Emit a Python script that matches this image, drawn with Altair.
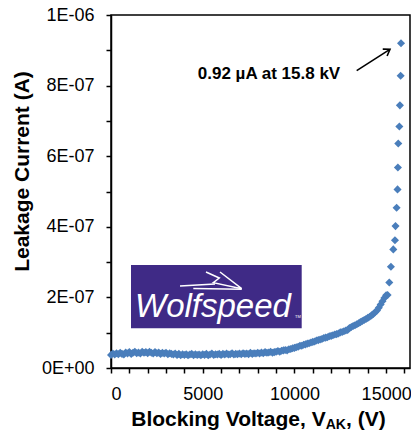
import altair as alt
import pandas as pd

# ---- data ----
# dense band: current in units of 1e-8 A at 100 V steps, 0 .. 15000 V
band_current_e8 = [
    3.7, 4.1, 3.8, 4.2, 3.9, 4.3, 4.0, 3.8, 4.4, 4.1,
    4.5, 4.0, 4.3, 4.6, 4.2, 4.4, 4.1, 4.6, 4.3, 4.5,
    4.2, 4.6, 4.3, 4.1, 4.5, 4.2, 4.4, 4.0, 4.3, 4.1,
    4.3, 3.9, 4.2, 4.0, 3.8, 4.1, 3.7, 4.0, 3.6, 3.9,
    3.7, 3.9, 3.6, 3.8, 4.0, 3.6, 3.9, 3.7, 3.8, 3.6,
    3.9, 3.7, 4.0, 3.6, 3.8, 4.1, 3.7, 3.9, 3.8, 4.0,
    3.7, 4.0, 3.8, 4.1, 3.8, 3.9, 4.2, 3.8, 4.0, 3.9,
    4.1, 3.9, 4.2, 4.0, 4.1, 3.9, 4.3, 4.0, 4.2, 4.1,
    4.3, 4.1, 4.4, 4.2, 4.5, 4.3, 4.4, 4.6, 4.3, 4.5,
    4.6, 4.8, 4.6, 4.9, 5.0, 5.1, 5.0, 5.3, 5.4, 5.6,
    5.7, 5.9, 6.0, 6.3, 6.3, 6.6, 6.7, 6.9, 7.0, 7.2,
    7.4, 7.5, 7.8, 7.9, 8.1, 8.2, 8.5, 8.6, 8.7, 9.0,
    9.1, 9.3, 9.5, 9.6, 9.8, 10.1, 10.2, 10.4, 10.6, 10.8,
    11.3, 11.6, 11.9, 12.1, 12.4, 12.7, 13.0, 13.3, 13.6, 13.9,
    14.2, 14.5, 14.9, 15.3, 15.8, 16.3, 17.1, 18.0, 18.9, 19.8,
    20.6,
]
band_voltage = list(range(0, 15001, 100))

# sparse points at the top of the sweep
tail_voltage = [15080, 15170, 15260, 15390, 15480, 15510, 15570, 15620,
                15640, 15660, 15720, 15750, 15790, 15810]
tail_current_e8 = [20.7, 24.2, 28.7, 33.6, 36.2, 40.2, 45.4, 50.6,
                   56.8, 63.6, 68.4, 74.4, 82.8, 92.0]

y_ticks = [0, 1e-7, 2e-7, 3e-7, 4e-7, 5e-7, 6e-7, 7e-7, 8e-7, 9e-7, 1e-6]
x_ticks = [0, 1000, 2000, 3000, 4000, 5000, 6000, 7000, 8000, 9000,
           10000, 11000, 12000, 13000, 14000, 15000, 16000]

annotation_text = "0.92 \u00b5A at 15.8 kV"
y_title = "Leakage Current (A)"
x_title_main = "Blocking Voltage, V"
x_title_sub = "AK"
x_title_end = ", (V)"
logo_text = "Wolfspeed"

# ---- build tables ----
volts = band_voltage + tail_voltage
amps = [c * 1e-8 for c in band_current_e8 + tail_current_e8]
df = pd.DataFrame({"V": volts, "I": amps})

one = pd.DataFrame({"k": [0]})

FONT = "Liberation Sans"
BLUE = "#4A7EBB"

W, H = 299, 353

points = alt.Chart(df).mark_point(
    shape="diamond", filled=True, size=65, color=BLUE, opacity=1
).encode(
    x=alt.X("V:Q", scale=alt.Scale(domain=[0, 16300], nice=False, zero=True),
            axis=alt.Axis(values=x_ticks, format="d",
                          labelExpr="datum.value % 5000 === 0 ? format(datum.value, 'd') : ''",
                          title=None, labelPadding=12)),
    y=alt.Y("I:Q", scale=alt.Scale(domain=[0, 1e-6], nice=False),
            axis=alt.Axis(values=y_ticks, title=None, labelPadding=12,
                          labelExpr="datum.value < 1e-10 ? '0E+00' : (round(datum.value*1e7) % 2 == 1 ? '' : (round(datum.value*1e7) == 10 ? '1E-06' : round(datum.value*1e7) + 'E-07'))")),
)

# logo (a picture in the original, redrawn with marks)
logo_box = alt.Chart(one).mark_rect(color="#3F2A86").encode(
    x=alt.value(20), x2=alt.value(190.7), y=alt.value(250), y2=alt.value(313.3)
)
logo_word = alt.Chart(one).mark_text(
    text=logo_text, font=FONT, fontSize=33, fontStyle="italic", color="white",
    align="left", baseline="alphabetic"
).encode(x=alt.value(24), y=alt.value(301.7))
logo_tm = alt.Chart(one).mark_text(
    text="TM", font=FONT, fontSize=4, color="white", align="left", baseline="alphabetic"
).encode(x=alt.value(184), y=alt.value(303))
bolt_df = pd.DataFrame({
    "px": [69, 104,
           95, 108.3, 102.3, 130.7, 109,
           82.3, 130.7],
    "py": [271, 269,
           257, 263, 267.7, 273.7, 257,
           273.5, 274.3],
    "g": ["a", "a", "b", "b", "b", "b", "b", "c", "c"],
    "o": [0, 1, 0, 1, 2, 3, 4, 0, 1],
})
logo_bolt = alt.Chart(bolt_df).mark_line(color="white", strokeWidth=1.5).encode(
    x=alt.X("px:Q", scale=None), y=alt.Y("py:Q", scale=None),
    detail="g:N", order="o:Q"
)

# annotation
ann = alt.Chart(one).mark_text(
    text=annotation_text, font=FONT, fontSize=17, fontWeight="bold", color="black",
    align="center", baseline="alphabetic"
).encode(x=alt.value(158), y=alt.value(64.3))
arrow_line = alt.Chart(one).mark_rule(color="black", strokeWidth=1.6).encode(
    x=alt.value(245.7), x2=alt.value(278.5), y=alt.value(55.7), y2=alt.value(34.6)
)
arrow_head = alt.Chart(one).mark_point(
    shape="M -0.6 0.9 L 0 0 L 0.6 0.9", filled=False, color="black",
    strokeWidth=1.6, size=180, angle=57.3, opacity=1
).encode(x=alt.value(279), y=alt.value(34.3))

# titles
ytitle = alt.Chart(one).mark_text(
    text=y_title, font=FONT, fontSize=21, fontWeight="bold", color="black",
    align="center", baseline="middle", angle=270
).encode(x=alt.value(-88), y=alt.value(156.5))
xt1 = alt.Chart(one).mark_text(
    text=x_title_main, font=FONT, fontSize=21, fontWeight="bold", color="black",
    align="right", baseline="alphabetic"
).encode(x=alt.value(214.7), y=alt.value(411))
xt2 = alt.Chart(one).mark_text(
    text=x_title_sub, font=FONT, fontSize=14, fontWeight="bold", color="black",
    align="left", baseline="alphabetic"
).encode(x=alt.value(214.7), y=alt.value(413.5))
xt3 = alt.Chart(one).mark_text(
    text=x_title_end, font=FONT, fontSize=21, fontWeight="bold", color="black",
    align="left", baseline="alphabetic"
).encode(x=alt.value(235), y=alt.value(411))

chart = alt.layer(
    points, logo_box, logo_bolt, logo_word, logo_tm, ann, arrow_line, arrow_head,
    ytitle, xt1, xt2, xt3
).properties(
    width=W, height=H,
    autosize=alt.AutoSizeParams(type="none"),
    padding={"left": 103, "top": 7, "right": 1, "bottom": 63},
    background="white",
).configure_view(
    stroke="black", strokeWidth=1.5
).configure_axis(
    grid=False, domainColor="black", domainWidth=1.5, tickColor="black",
    tickWidth=1.5, tickSize=5, labelFont=FONT, labelFontSize=18, labelColor="black"
)

chart.save("out.html", embed_options={"renderer": "svg", "actions": False})
